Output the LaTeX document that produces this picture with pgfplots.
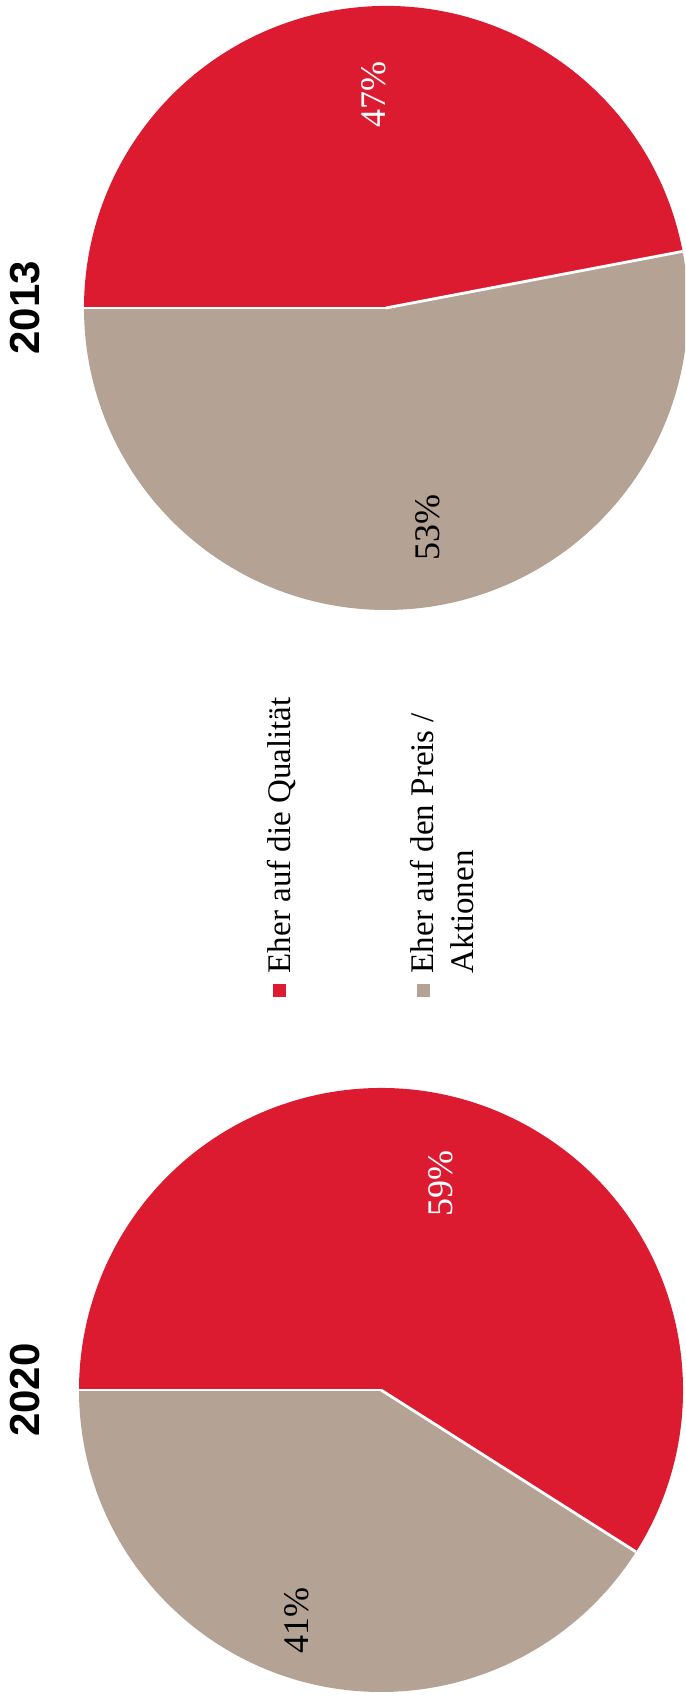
\documentclass[border=0pt]{standalone}
\usepackage{pgfplots}
\usepackage{pgfplotstable}
\pgfplotsset{compat=1.18}
\usepackage{fontspec}
\setmainfont{Liberation Serif}
\newfontfamily\titlefont{Liberation Sans}

\definecolor{qred}{RGB}{220,27,49}
\definecolor{pgrey}{RGB}{180,163,149}

% share of answers in percent
\pgfplotstableread{
year qual preis
2013 47 53
2020 59 41
}\shares

\newcommand\R{75.5pt}
% pie: centre x, centre y, start angle of red, end angle of grey
\newcommand\pie[4]{%
  \fill[qred] (axis cs:#1,#2) -- ++(#3:\R) arc[start angle=#3, end angle=180, radius=\R] -- cycle;
  \fill[pgrey] (axis cs:#1,#2) -- ++(180:\R) arc[start angle=180, end angle=#4, radius=\R] -- cycle;
  \draw[white, line width=0.7pt] (axis cs:#1,#2) -- ++(#3:\R);
  \draw[white, line width=0.7pt] (axis cs:#1,#2) -- ++(180:\R);
}

\begin{document}
\begin{tikzpicture}
\pgfplotstablegetelem{0}{qual}\of\shares \let\qa\pgfplotsretval
\pgfplotstablegetelem{0}{preis}\of\shares \let\pa\pgfplotsretval
\pgfplotstablegetelem{1}{qual}\of\shares \let\qb\pgfplotsretval
\pgfplotstablegetelem{1}{preis}\of\shares \let\pb\pgfplotsretval
\pgfmathsetmacro\saA{180-3.6*\qa}
\pgfmathsetmacro\eaA{180+3.6*\pa}
\pgfmathsetmacro\saB{180-3.6*\qb}
\pgfmathsetmacro\eaB{180+3.6*\pb}
\begin{axis}[
    hide axis,
    scale only axis,
    width=171.25pt, height=427pt,
    xmin=0, xmax=685, ymin=0, ymax=1708,
    clip=true,
]
\path (axis cs:0,0) (axis cs:685,1708);

\pie{386}{1400}{\saA}{\eaA}
\pie{381}{318}{\saB}{\eaB}

\node[rotate=90, white, font=\fontsize{9}{10}\selectfont] at (axis cs:374,1613) {\qa\%};
\node[rotate=90, black, font=\fontsize{9}{10}\selectfont] at (axis cs:428,1180) {\pa\%};
\node[rotate=90, white, font=\fontsize{9}{10}\selectfont] at (axis cs:441,524) {\qb\%};
\node[rotate=90, black, font=\fontsize{9}{10}\selectfont] at (axis cs:297,87) {\pb\%};

\node[rotate=90, font=\titlefont\bfseries\fontsize{10.5}{12}\selectfont] at (axis cs:25,1400) {2013};
\node[rotate=90, font=\titlefont\bfseries\fontsize{10.5}{12}\selectfont] at (axis cs:25,318) {2020};

% legend
\fill[qred] (axis cs:273,711) rectangle (axis cs:286,724);
\fill[pgrey] (axis cs:417,711) rectangle (axis cs:430,724);
\node[rotate=90, anchor=base west, inner sep=0pt, font=\fontsize{8.25}{10}\selectfont] at (axis cs:290,734) {Eher auf die Qualität};
\node[rotate=90, anchor=base west, inner sep=0pt, font=\fontsize{8.25}{10}\selectfont] at (axis cs:433,734) {Eher auf den Preis /};
\node[rotate=90, anchor=base west, inner sep=0pt, font=\fontsize{8.25}{10}\selectfont] at (axis cs:473,734) {Aktionen};
\end{axis}
\end{tikzpicture}
\end{document}
